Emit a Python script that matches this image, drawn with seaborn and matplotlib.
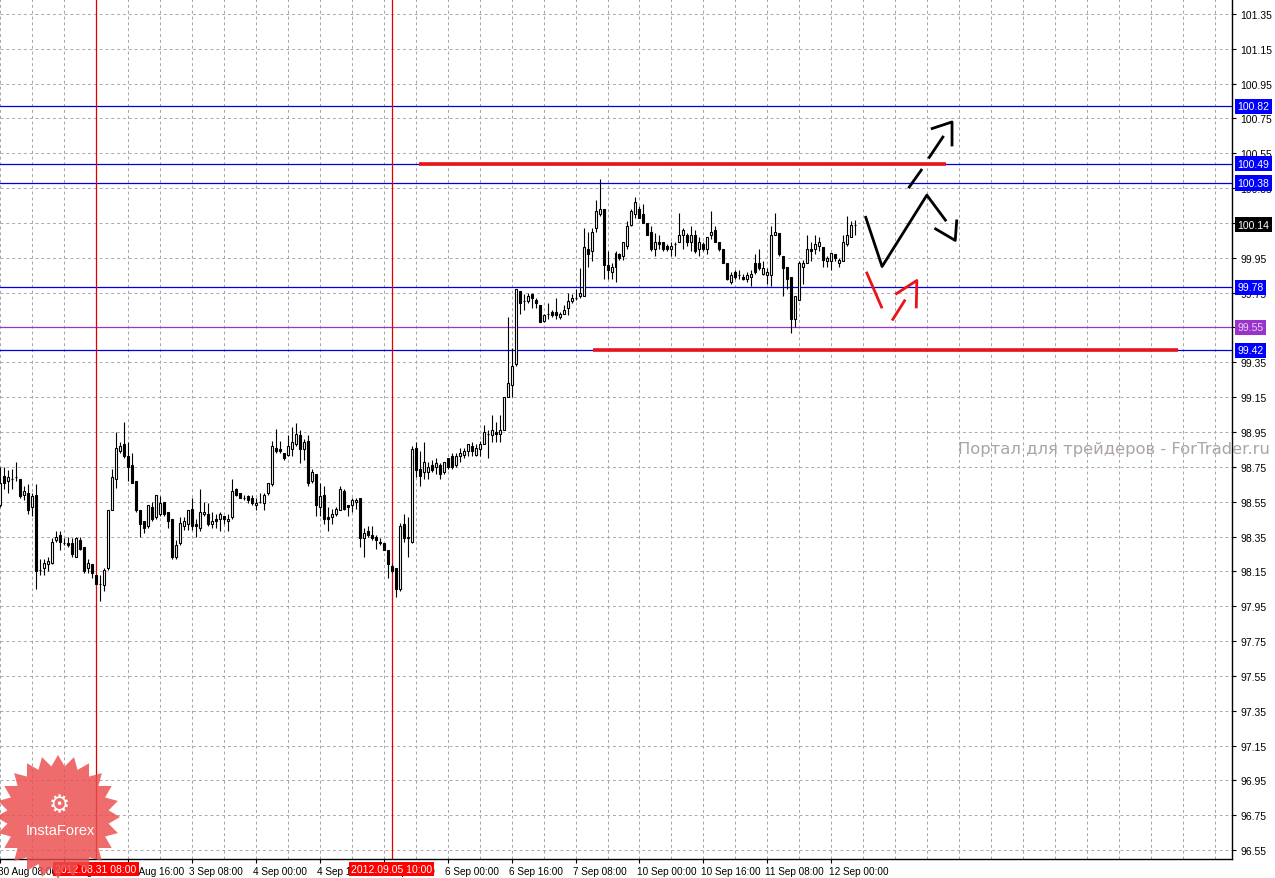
import numpy as np
import pandas as pd
import matplotlib.pyplot as plt
import matplotlib.transforms as mtransforms
from matplotlib.patches import Polygon
import seaborn as sns

# hourly EURJPY-style candles, 30 Aug 08:00 .. 12 Sep 06:00 (weekends skipped)
opens = [98.53, 98.70, 98.67, 98.68, 98.69, 98.68, 98.59, 98.60, 98.52, 98.59,
         98.16, 98.17, 98.19, 98.20, 98.33, 98.36, 98.31, 98.31, 98.31, 98.23,
         98.33, 98.29, 98.17, 98.19, 98.13, 98.08, 98.07, 98.17, 98.50, 98.68,
         98.84, 98.88, 98.81, 98.76, 98.67, 98.50, 98.44, 98.41, 98.52, 98.46,
         98.48, 98.55, 98.49, 98.45, 98.23, 98.31, 98.41, 98.42, 98.51, 98.42,
         98.40, 98.48, 98.48, 98.42, 98.45, 98.45, 98.47, 98.44, 98.46, 98.62,
         98.60, 98.57, 98.58, 98.57, 98.53, 98.55, 98.54, 98.60, 98.65, 98.86,
         98.85, 98.83, 98.82, 98.85, 98.88, 98.93, 98.85, 98.90, 98.67, 98.71,
         98.52, 98.59, 98.46, 98.46, 98.48, 98.50, 98.61, 98.53, 98.53, 98.55,
         98.57, 98.34, 98.38, 98.36, 98.35, 98.32, 98.31, 98.27, 98.18, 98.17,
         98.05, 98.42, 98.34, 98.32, 98.86, 98.74, 98.72, 98.72, 98.76, 98.75,
         98.76, 98.72, 98.80, 98.81, 98.76, 98.81, 98.82, 98.84, 98.87, 98.82,
         98.85, 98.88, 98.94, 98.93, 98.95, 98.94, 98.96, 99.15, 99.22, 99.34,
         99.76, 99.70, 99.70, 99.74, 99.71, 99.68, 99.59, 99.63, 99.64, 99.64,
         99.61, 99.63, 99.66, 99.70, 99.72, 99.73, 99.73, 100.00, 99.99, 100.12,
         100.20, 100.23, 99.91, 99.87, 99.90, 99.97, 99.96, 100.02, 100.14, 100.20,
         100.23, 100.20, 100.15, 100.10, 100.00, 100.04, 100.04, 100.02, 100.00, 100.03,
         100.04, 100.08, 100.08, 100.04, 100.08, 100.00, 100.03, 100.00, 100.08, 100.11,
         100.04, 100.00, 99.92, 99.81, 99.87, 99.85, 99.84, 99.83, 99.84, 99.92,
         99.92, 99.86, 99.85, 99.85, 100.08, 100.09, 99.96, 99.90, 99.84, 99.60,
         99.71, 99.90, 99.92, 100.00, 100.00, 100.02, 100.01, 99.93, 99.93, 99.97,
         99.92, 99.93, 100.03, 100.07, 100.14]
highs = [98.75, 98.75, 98.73, 98.74, 98.78, 98.68, 98.64, 98.65, 98.60, 98.65,
         98.22, 98.22, 98.23, 98.34, 98.38, 98.38, 98.34, 98.35, 98.34, 98.35,
         98.35, 98.29, 98.22, 98.19, 98.13, 98.13, 98.17, 98.50, 98.74, 98.95,
         98.89, 99.01, 98.89, 98.83, 98.67, 98.50, 98.44, 98.53, 98.55, 98.59,
         98.58, 98.55, 98.49, 98.45, 98.33, 98.46, 98.46, 98.50, 98.57, 98.45,
         98.62, 98.55, 98.54, 98.49, 98.48, 98.49, 98.47, 98.48, 98.68, 98.63,
         98.60, 98.59, 98.59, 98.59, 98.57, 98.60, 98.60, 98.66, 98.90, 98.97,
         98.90, 98.83, 98.93, 98.98, 99.00, 98.96, 98.91, 98.93, 98.74, 98.71,
         98.66, 98.64, 98.52, 98.51, 98.52, 98.64, 98.62, 98.53, 98.57, 98.57,
         98.57, 98.40, 98.41, 98.41, 98.36, 98.34, 98.31, 98.27, 98.19, 98.17,
         98.43, 98.48, 98.46, 98.87, 98.89, 98.84, 98.89, 98.78, 98.79, 98.80,
         98.77, 98.78, 98.80, 98.83, 98.83, 98.86, 98.86, 98.88, 98.89, 98.88,
         98.90, 98.99, 98.96, 99.05, 99.01, 99.05, 99.15, 99.61, 99.43, 99.77,
         99.76, 99.74, 99.75, 99.75, 99.72, 99.68, 99.63, 99.69, 99.65, 99.72,
         99.64, 99.68, 99.75, 99.74, 99.77, 99.89, 100.12, 100.10, 100.12, 100.28,
         100.40, 100.23, 99.99, 99.92, 99.99, 99.98, 100.04, 100.16, 100.23, 100.30,
         100.25, 100.26, 100.15, 100.13, 100.09, 100.08, 100.04, 100.03, 100.04, 100.04,
         100.21, 100.12, 100.09, 100.13, 100.11, 100.07, 100.04, 100.07, 100.22, 100.13,
         100.04, 100.00, 99.92, 99.87, 99.88, 99.88, 99.86, 99.87, 99.88, 99.97,
         100.00, 99.93, 99.89, 100.13, 100.21, 100.09, 99.96, 99.90, 99.84, 99.73,
         99.93, 99.94, 100.08, 100.04, 100.08, 100.07, 100.01, 99.96, 99.98, 99.97,
         99.95, 100.08, 100.19, 100.16, 100.17]
lows = [98.52, 98.62, 98.60, 98.62, 98.67, 98.57, 98.56, 98.48, 98.47, 98.05,
        98.13, 98.13, 98.15, 98.19, 98.32, 98.27, 98.30, 98.29, 98.23, 98.23,
        98.27, 98.14, 98.14, 98.11, 98.08, 97.98, 98.04, 98.16, 98.50, 98.63,
        98.83, 98.80, 98.67, 98.66, 98.49, 98.35, 98.37, 98.40, 98.44, 98.45,
        98.47, 98.47, 98.40, 98.22, 98.22, 98.30, 98.39, 98.39, 98.39, 98.35,
        98.38, 98.47, 98.41, 98.40, 98.40, 98.38, 98.42, 98.38, 98.45, 98.58,
        98.57, 98.56, 98.54, 98.53, 98.50, 98.54, 98.50, 98.59, 98.64, 98.83,
        98.83, 98.79, 98.81, 98.81, 98.87, 98.77, 98.79, 98.64, 98.66, 98.47,
        98.47, 98.42, 98.38, 98.42, 98.47, 98.50, 98.50, 98.47, 98.49, 98.51,
        98.29, 98.23, 98.35, 98.33, 98.28, 98.30, 98.27, 98.11, 98.14, 98.00,
        98.04, 98.32, 98.23, 98.31, 98.69, 98.64, 98.68, 98.68, 98.72, 98.71,
        98.68, 98.71, 98.74, 98.74, 98.75, 98.78, 98.80, 98.81, 98.81, 98.81,
        98.81, 98.88, 98.80, 98.89, 98.89, 98.89, 98.96, 99.15, 99.15, 99.33,
        99.63, 99.65, 99.69, 99.66, 99.66, 99.58, 99.58, 99.60, 99.61, 99.60,
        99.60, 99.63, 99.62, 99.69, 99.71, 99.72, 99.73, 99.90, 99.93, 100.10,
        100.19, 99.83, 99.83, 99.83, 99.81, 99.94, 99.94, 100.00, 100.13, 100.18,
        100.18, 100.15, 100.08, 99.99, 99.96, 100.00, 99.99, 99.99, 99.96, 99.96,
        100.04, 100.00, 100.02, 99.99, 99.98, 99.96, 99.99, 99.97, 100.06, 100.04,
        99.99, 99.92, 99.82, 99.80, 99.83, 99.83, 99.82, 99.81, 99.79, 99.86,
        99.88, 99.85, 99.80, 99.79, 100.08, 99.96, 99.73, 99.77, 99.52, 99.55,
        99.71, 99.80, 99.92, 99.93, 99.97, 99.99, 99.90, 99.90, 99.88, 99.93,
        99.90, 99.93, 100.02, 100.07, 100.08]
closes = [98.66, 98.66, 98.69, 98.68, 98.69, 98.58, 98.61, 98.50, 98.58, 98.15,
          98.16, 98.20, 98.21, 98.32, 98.35, 98.32, 98.31, 98.30, 98.25, 98.34,
          98.28, 98.15, 98.20, 98.14, 98.08, 98.08, 98.16, 98.50, 98.69, 98.86,
          98.87, 98.81, 98.75, 98.66, 98.50, 98.42, 98.40, 98.53, 98.45, 98.59,
          98.54, 98.48, 98.44, 98.23, 98.30, 98.43, 98.44, 98.50, 98.41, 98.41,
          98.49, 98.49, 98.42, 98.44, 98.44, 98.48, 98.45, 98.45, 98.61, 98.59,
          98.57, 98.57, 98.56, 98.54, 98.54, 98.55, 98.59, 98.66, 98.87, 98.84,
          98.84, 98.80, 98.87, 98.89, 98.94, 98.85, 98.89, 98.66, 98.72, 98.53,
          98.58, 98.45, 98.45, 98.48, 98.51, 98.62, 98.51, 98.52, 98.56, 98.56,
          98.34, 98.37, 98.36, 98.34, 98.33, 98.31, 98.27, 98.19, 98.15, 98.05,
          98.41, 98.34, 98.35, 98.85, 98.73, 98.70, 98.78, 98.75, 98.73, 98.77,
          98.71, 98.78, 98.75, 98.75, 98.81, 98.83, 98.84, 98.88, 98.84, 98.86,
          98.88, 98.95, 98.94, 98.96, 98.94, 98.96, 99.15, 99.23, 99.33, 99.77,
          99.69, 99.70, 99.73, 99.72, 99.69, 99.58, 99.62, 99.63, 99.62, 99.62,
          99.63, 99.65, 99.70, 99.72, 99.72, 99.75, 100.01, 99.97, 100.10, 100.22,
          100.23, 99.91, 99.88, 99.90, 99.98, 99.95, 100.04, 100.13, 100.22, 100.27,
          100.18, 100.15, 100.08, 100.00, 100.04, 100.03, 100.00, 100.00, 100.02, 100.03,
          100.08, 100.11, 100.04, 100.08, 99.99, 100.04, 100.00, 100.07, 100.10, 100.04,
          100.00, 99.92, 99.83, 99.85, 99.84, 99.85, 99.83, 99.85, 99.86, 99.87,
          99.89, 99.89, 99.87, 100.08, 100.10, 99.97, 99.89, 99.83, 99.60, 99.73,
          99.92, 99.92, 100.00, 99.99, 100.03, 100.04, 99.94, 99.95, 99.98, 99.95,
          99.94, 100.04, 100.08, 100.14, 100.14]

times = pd.date_range("2012-08-30 08:00", "2012-09-12 06:00", freq="h")
times = times[times.dayofweek < 5]

df = pd.DataFrame({"time": times, "open": opens, "high": highs,
                   "low": lows, "close": closes})
df["bar"] = np.arange(len(df))

# axis labels every 16 bars
label_times = ["2012-08-30 08:00", "2012-08-31 00:00", "2012-08-31 16:00",
               "2012-09-03 08:00", "2012-09-04 00:00", "2012-09-04 16:00",
               "2012-09-05 08:00", "2012-09-06 00:00", "2012-09-06 16:00",
               "2012-09-07 08:00", "2012-09-10 00:00", "2012-09-10 16:00",
               "2012-09-11 08:00", "2012-09-12 00:00"]
marker_times = ["2012-08-31 08:00", "2012-09-05 10:00"]

price_ticks = [96.55, 96.75, 96.95, 97.15, 97.35, 97.55, 97.75, 97.95, 98.15,
               98.35, 98.55, 98.75, 98.95, 99.15, 99.35, 99.55, 99.75, 99.95,
               100.15, 100.35, 100.55, 100.75, 100.95, 101.15, 101.35]
blue_levels = [100.82, 100.49, 100.38, 99.78, 99.42]
purple_level = 99.55
# drawn red zones: level, first bar, last bar
red_levels = [100.49, 99.42]
red_from = [104.75, 148.25]
red_to = [236.75, 294.75]

# hand drawn forecast strokes (bar, price)
strokes = [
    ("black", [216.5, 220.7, 231.9, 236.75], [100.19, 99.90, 100.31, 100.16]),
    ("black", [233.8, 239.0, 239.4], [100.12, 100.05, 100.17]),
    ("black", [227.3, 230.7], [100.35, 100.46]),
    ("black", [232.3, 236.1], [100.52, 100.65]),
    ("black", [232.9, 238.2, 238.2], [100.69, 100.73, 100.59]),
    ("#e8141c", [216.75, 220.7], [99.87, 99.66]),
    ("#e8141c", [223.2, 226.5], [99.59, 99.71]),
    ("#e8141c", [224.0, 229.4, 229.25], [99.74, 99.82, 99.66]),
]

sns.set_theme(style="white")
plt.rcParams["font.family"] = ["Liberation Sans", "DejaVu Sans"]

W, H = 1275, 879
fig = plt.figure(figsize=(W / 100, H / 100), dpi=100)
ax = fig.add_axes([0, 19 / H, 1232 / W, 860 / H])
ax.set_facecolor("white")

ax.set_xlim(0.25, 308.25)
ax.set_ylim(96.4985, 101.436)

# grid
for b in range(0, 309, 8):
    ax.axvline(b, color="#a4a4a4", lw=0.7, dashes=(3, 3), zorder=0)
for p in price_ticks:
    ax.axhline(p, color="#b0a4b0", lw=0.7, dashes=(3, 3), zorder=0)

# levels
for lv in blue_levels:
    ax.axhline(lv, color="#0000e6", lw=0.9, zorder=1)
ax.axhline(purple_level, color="#9a32cd", lw=0.9, zorder=1)
for lv, a, b in zip(red_levels, red_from, red_to):
    ax.hlines(lv, a, b, color="#e8141c", lw=2.6, zorder=2)

pos_of = {t: i for i, t in enumerate(df["time"])}
for t in marker_times:
    ax.axvline(pos_of[pd.Timestamp(t)], color="#e00000", lw=0.9, zorder=1)

# candles
up = df["close"] >= df["open"]
ax.vlines(df["bar"], df["low"], df["high"], color="black", lw=0.8, zorder=3)
body_lo = np.minimum(df["open"], df["close"])
body_h = (df["close"] - df["open"]).abs()
ax.bar(df["bar"], body_h, bottom=body_lo, width=0.5,
       color=np.where(up, "white", "black"), edgecolor="black",
       linewidth=0.8, zorder=4)

# forecast strokes
for col, xs, ys in strokes:
    sns.lineplot(x=xs, y=ys, sort=False, estimator=None, color=col, lw=2.0,
                 ax=ax, solid_capstyle="butt", zorder=5)

# axes look
for s in ["left", "top"]:
    ax.spines[s].set_visible(False)
for s in ["right", "bottom"]:
    ax.spines[s].set_visible(True)
    ax.spines[s].set_color("black")
    ax.spines[s].set_linewidth(1.0)

ax.yaxis.tick_right()
ax.set_yticks(price_ticks)
ax.set_yticklabels([f"{p:.2f}" for p in price_ticks])
ax.tick_params(axis="y", right=True, left=False, length=3, width=0.8,
               pad=3, labelsize=7.5, colors="black", direction="out")

tick_pos = [pos_of[pd.Timestamp(t)] for t in label_times]
tick_lab = [pd.Timestamp(t).strftime("%-d %b %H:%M") for t in label_times]
ax.set_xticks(tick_pos)
ax.set_xticklabels(tick_lab, ha="left")
ax.tick_params(axis="x", bottom=True, length=3, width=0.8, pad=2,
               labelsize=7.2, colors="black", direction="out")
for lbl in ax.get_xticklabels():
    lbl.set_transform(lbl.get_transform() +
                      mtransforms.ScaledTranslation(-2.5 / 100, 0, fig.dpi_scale_trans))

# price boxes on the right scale
yblend = mtransforms.blended_transform_factory(ax.transAxes, ax.transData)
box_items = [(lv, "#0000ff", "white") for lv in blue_levels]
box_items += [(purple_level, "#9a32cd", "#e6d6ee"), (closes[-1], "black", "white")]
for lv, bg, fg in box_items:
    ax.text(1.0045, lv, f"{lv:.2f}", transform=yblend, ha="left", va="center",
            fontsize=7.5, color=fg, clip_on=False, zorder=10,
            bbox=dict(boxstyle="square,pad=0.25", fc=bg, ec="none"))

# red date boxes on the time scale
for t in marker_times:
    ts = pd.Timestamp(t)
    ax.annotate(ts.strftime("%Y.%m.%d %H:%M"), xy=(pos_of[ts], 0),
                xycoords=("data", "axes fraction"), xytext=(0, -7.3),
                textcoords="offset points", ha="center", va="center",
                fontsize=7.5, color="white", annotation_clip=False, zorder=10,
                bbox=dict(boxstyle="square,pad=0.2", fc="#ff0000", ec="none"))

# watermark
fig.text(958 / W, 1 - 450 / H, "Портал для трейдеров - ForTrader.ru",
         ha="left", va="center", fontsize=11.8, color="#aca4a4",
         family="DejaVu Sans")

# InstaForex badge
ang = np.linspace(0, 2 * np.pi, 49)[:-1]
rad = np.where(np.arange(48) % 2 == 0, 62, 51)
cx, cy = 58, 818
verts = np.column_stack([(cx + rad * np.cos(ang)) / W,
                         1 - (cy + rad * np.sin(ang)) / H])
fig.add_artist(Polygon(verts, closed=True, transform=fig.transFigure,
                       fc="#ec4c4c", ec="none", alpha=0.82, zorder=20))
fig.text(59 / W, 1 - 805 / H, "\u2699", ha="center", va="center",
         fontsize=17, color="white", zorder=21, family="DejaVu Sans")
fig.text(60 / W, 1 - 831 / H, "InstaForex", ha="center", va="center",
         fontsize=10.5, color="white", zorder=21)

fig.savefig("out.png", dpi=100)
